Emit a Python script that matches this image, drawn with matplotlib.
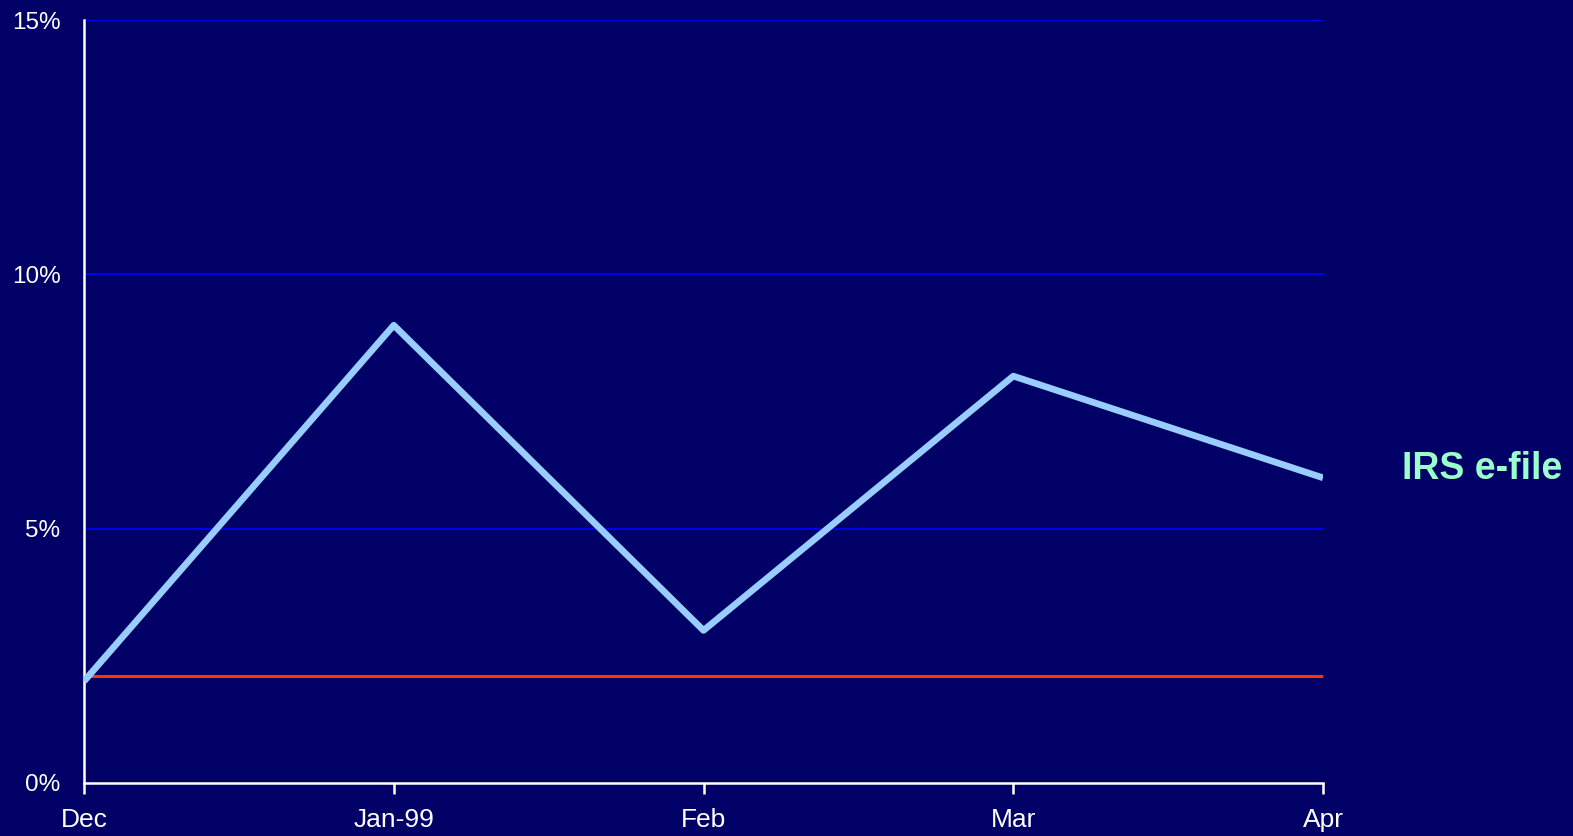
import numpy as np
import matplotlib
matplotlib.use("Agg")
import matplotlib.pyplot as plt
from matplotlib.ticker import FuncFormatter

months = ["Dec", "Jan-99", "Feb", "Mar", "Apr"]
efile_pct = [2.0, 9.0, 3.0, 8.0, 6.0]
baseline_pct = [2.1, 2.1, 2.1, 2.1, 2.1]
y_ticks = [0, 5, 10, 15]
series_label = "IRS e-file"

bg = "#000066"

plt.rcParams["font.family"] = ["Liberation Sans", "DejaVu Sans"]

fig = plt.figure(figsize=(15.73, 8.36), dpi=100, facecolor=bg)
ax = fig.add_axes([0.0534, 0.0634, 0.7877, 0.9126])
ax.set_facecolor(bg)

x = np.arange(len(months))

for t in y_ticks[1:]:
    ax.axhline(t, color="#0000FF", lw=1.3, zorder=1)

ax.plot(x, baseline_pct, color="#FF3300", lw=2.2, zorder=2, solid_capstyle="butt")
ax.plot(x, efile_pct, color="#99CCFF", lw=4.8, zorder=3, solid_capstyle="butt")

ax.set_xlim(0, len(months) - 1)
ax.set_ylim(0, 15)
ax.set_xticks(x)
ax.set_xticklabels(months)
ax.set_yticks(y_ticks)
ax.yaxis.set_major_formatter(FuncFormatter(lambda v, p: "%d%%" % v))

for s in ["top", "right"]:
    ax.spines[s].set_visible(False)
for s in ["left", "bottom"]:
    ax.spines[s].set_color("white")
    ax.spines[s].set_linewidth(1.8)

ax.tick_params(axis="x", colors="white", length=8, width=1.8, pad=10, labelsize=19)
ax.tick_params(axis="y", colors="white", length=0, pad=17, labelsize=17.5)

ax.annotate(series_label, xy=(x[-1], efile_pct[-1]), xytext=(57, 6),
            textcoords="offset points", color="#99FFCC", fontsize=27,
            fontweight="bold", va="center", ha="left", annotation_clip=False)

fig.savefig("out.png", dpi=100, facecolor=bg)
